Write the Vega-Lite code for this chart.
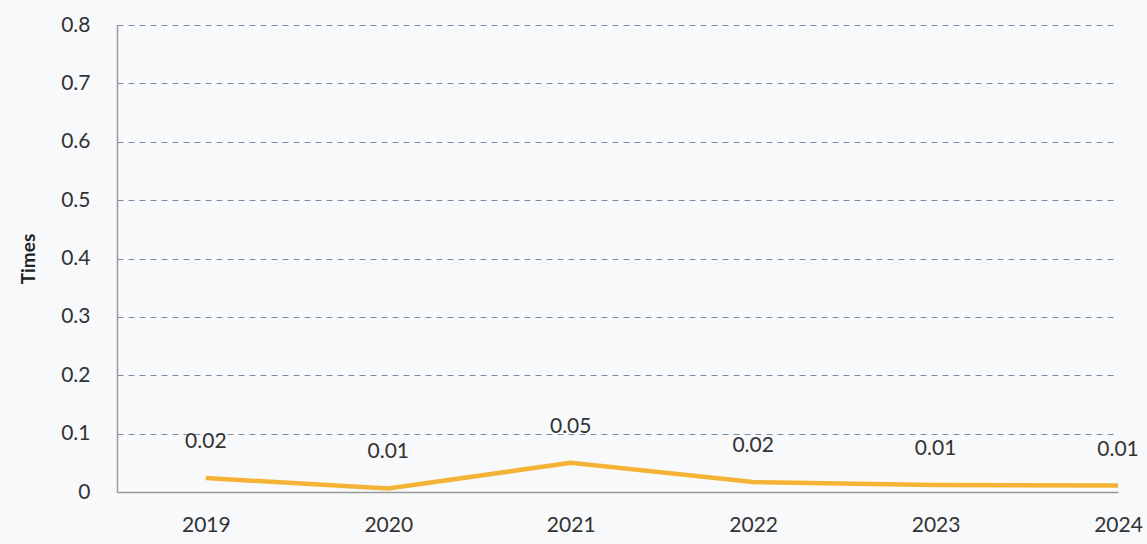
{
  "$schema": "https://vega.github.io/schema/vega-lite/v6.json",
  "width": 1001,
  "height": 467,
  "autosize": {"type": "none"},
  "padding": {"left": 117, "top": 25, "right": 29, "bottom": 52},
  "background": "#f8f9fb",
  "config": {
    "font": "Lato",
    "view": {"stroke": null},
    "axis": {"labelFont": "Lato", "titleFont": "Lato"}
  },
  "data": {
    "values": [
      {"year": 2019, "value": 0.024},
      {"year": 2020, "value": 0.006},
      {"year": 2021, "value": 0.05},
      {"year": 2022, "value": 0.017},
      {"year": 2023, "value": 0.012},
      {"year": 2024, "value": 0.011}
    ]
  },
  "encoding": {
    "x": {
      "field": "year",
      "type": "quantitative",
      "scale": {"domain": [2018.513, 2024], "nice": false, "zero": false},
      "axis": {
        "values": [2019, 2020, 2021, 2022, 2023, 2024],
        "format": "d",
        "title": null,
        "grid": false,
        "ticks": false,
        "domainColor": "#9a9a9a",
        "domainWidth": 1.5,
        "labelFontSize": 21,
        "labelColor": "#333333",
        "labelPadding": 22,
        "labelFlush": false
      }
    },
    "y": {
      "field": "value",
      "type": "quantitative",
      "scale": {"domain": [0, 0.8], "nice": false},
      "axis": {
        "values": [0, 0.1, 0.2, 0.3, 0.4, 0.5, 0.6, 0.7, 0.8],
        "format": ".1~f",
        "title": "Times",
        "titleFontSize": 19,
        "titleFontWeight": "bold",
        "titleColor": "#222222",
        "titlePadding": 22,
        "ticks": false,
        "domainColor": "#9a9a9a",
        "domainWidth": 1.5,
        "labelFontSize": 21,
        "labelColor": "#333333",
        "labelPadding": 27,
        "gridColor": "#6f819b",
        "gridDash": [6, 5],
        "gridWidth": 1,
        "gridOpacity": 0.9
      }
    }
  },
  "layer": [
    {
      "mark": {"type": "line", "color": "#F5B335", "strokeWidth": 4.5}
    },
    {
      "mark": {"type": "text", "dy": -36, "fontSize": 21, "color": "#333333", "font": "Lato"},
      "encoding": {
        "text": {"field": "value", "type": "quantitative", "format": ".2f"}
      }
    }
  ]
}
